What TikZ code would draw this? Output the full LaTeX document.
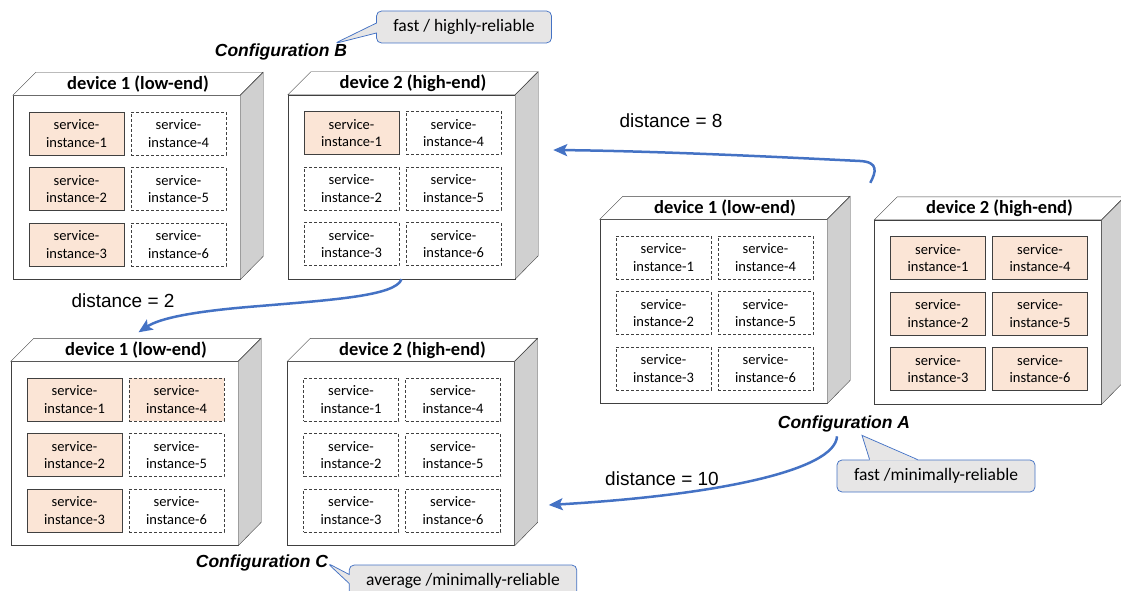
\documentclass[tikz,border=0pt]{standalone}
\usepackage{fontspec}
\setmainfont{Carlito}
\newfontfamily\arialfont{Liberation Sans}
\usepackage{tikz}
\usetikzlibrary{arrows.meta, calc, positioning, shapes.callouts}
\definecolor{peach}{RGB}{251,229,214}
\definecolor{sidegray}{RGB}{208,208,208}
\definecolor{linkblue}{RGB}{68,114,196}
\definecolor{notegray}{RGB}{231,230,230}
\definecolor{edgegray}{RGB}{64,64,64}

% top and side of a device box
\newcommand{\devfaces}[2]{%
  \draw[edgegray, fill=white] (#1.north west) -- ++(23,-23) -- ++(227,0) -- (#1.north east) -- cycle;
  \draw[edgegray, fill=sidegray] (#1.north east) -- ++(23,-23) -- ++(0,184) -- (#1.south east) -- cycle;
  \node[devtitle] at ($(#1.north)+(11.5,-11.5)$) {#2};}
% six service instances inside a device
\newcommand{\services}[2]{%
  \foreach \s [count=\n] in {#2}
    \node[\s] (#1-\n) at ($(#1)+({-50+102*int((\n-1)/3)},{-54+55.5*mod(\n-1,3)})$)
      {service-\\instance-\n};}

\begin{document}
\begin{tikzpicture}[x=1pt, y=-1pt,
    front/.style={draw=edgegray, fill=white, minimum width=227, minimum height=184, inner sep=0pt},
    inst/.style={draw=edgegray, minimum width=95, minimum height=43, inner sep=0pt, align=center,
      font=\fontsize{14.5}{17.5}\selectfont},
    used/.style={inst, fill=peach},
    free/.style={inst, fill=white, dash pattern=on 3pt off 2pt},
    halfused/.style={inst, fill=peach, dash pattern=on 3pt off 2pt},
    devtitle/.style={font=\bfseries\fontsize{18.5}{20}\selectfont},
    cfg/.style={inner sep=0pt, font=\arialfont\bfseries\itshape\fontsize{17.5}{20}\selectfont},
    dist/.style={font=\arialfont\fontsize{19}{22}\selectfont},
    link/.style={draw=linkblue, line width=2.5pt, -{Stealth[length=14pt, width=12pt, inset=3pt]}},
    notebox/.style={draw=linkblue, fill=notegray, line width=0.75pt, rounded corners=5pt,
      minimum height=32, inner xsep=17pt, font=\fontsize{17.5}{20}\selectfont},
    note/.style={notebox, rectangle callout}]
  \useasboundingbox (0,0) rectangle (1121,591);

  % Configuration B
  \node[front] (b1) at (126.5,187.5) {};
  \devfaces{b1}{device 1 (low-end)}
  \services{b1}{used,used,used,free,free,free}
  \node[front] (b2) at (401.5,187) {};
  \devfaces{b2}{device 2 (high-end)}
  \services{b2}{used,free,free,free,free,free}
  \node[cfg] (cfgB) at (281,52) {Configuration B};
  \node[note, callout absolute pointer={($(cfgB.north east)+(-13,0)$)}, callout pointer width=10pt]
    (noteB) at (464,27) {fast / highly-reliable};

  % Configuration A
  \node[front] (a1) at (713.5,311.5) {};
  \devfaces{a1}{device 1 (low-end)}
  \services{a1}{free,free,free,free,free,free}
  \node[front] (a2) at (988,312) {};
  \devfaces{a2}{device 2 (high-end)}
  \services{a2}{used,used,used,used,used,used}
  \node[cfg] (cfgA) at (844,424) {Configuration A};
  \node[notebox] (noteA) at (936,476) {fast /minimally-reliable};
  \coordinate (tipA) at ($(cfgA.south)+(18,3)$);
  \fill[notegray] ($(noteA.north west)+(33,1)$) -- (tipA) -- ($(noteA.north west)+(81,1)$) -- cycle;
  \draw[linkblue, line width=0.75pt] ($(noteA.north west)+(33,0)$) -- (tipA) -- ($(noteA.north west)+(81,0)$);

  % Configuration C
  \node[front] (c1) at (124.5,453.5) {};
  \devfaces{c1}{device 1 (low-end)}
  \services{c1}{used,used,used,halfused,free,free}
  \node[front] (c2) at (401,453.5) {};
  \devfaces{c2}{device 2 (high-end)}
  \services{c2}{free,free,free,free,free,free}
  \node[cfg] (cfgC) at (262,563) {Configuration C};
  \node[note, callout absolute pointer={($(cfgC.east)+(-1,0)$)}, callout pointer width=9pt]
    (noteC) at (463,581) {average /minimally-reliable};

  % distances
  \coordinate (s8) at ($(a2.north west)+(-4,-37)$);
  \coordinate (e8) at ($(b2.east)+(38,-37)$);
  \draw[link] (s8) .. controls (876,172) and (879,162) .. (860,161)
    .. controls (760,156) and (650,151) .. (e8);
  \node[dist] (d8) at (671,121) {distance = 8};

  \coordinate (e2) at ($(c1.north)+(14,-29)$);
  \draw[link] (b2.south) .. controls (396,296) and (330,300) .. (260,306)
    .. controls (195,311) and (160,318) .. (e2);
  \node[dist] (d2) at (123,301) {distance = 2};

  \coordinate (s10) at ($(cfgA.south)+(-7,4)$);
  \coordinate (e10) at ($(c2.east)+(34,51.5)$);
  \draw[link] (s10) .. controls (835,470) and (720,495) .. (e10);
  \node[dist] (d10) at (662,479) {distance = 10};
\end{tikzpicture}
\end{document}
